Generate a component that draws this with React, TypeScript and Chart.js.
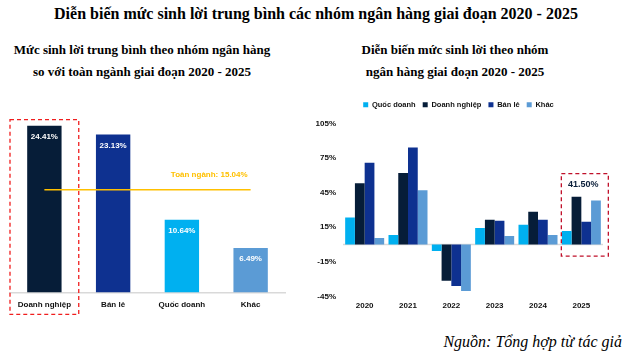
import React, { useEffect, useRef } from 'react';
import { Chart, registerables } from 'chart.js';

Chart.register(...registerables);

const FONT = '"Liberation Sans", Arial, Helvetica, sans-serif';
const SERIF = '"Liberation Serif", "Times New Roman", serif';

// ---- Left chart data ----
const leftCategories = ['Doanh nghiệp', 'Bán lẻ', 'Quốc doanh', 'Khác'];
const leftValues = [24.41, 23.13, 10.64, 6.49];
const leftColors = ['#061D38', '#0E3190', '#00B0F0', '#5B9BD5'];
const industryAvg = 15.04;

// ---- Right chart data ----
const years = ['2020', '2021', '2022', '2023', '2024', '2025'];
const seriesNames = ['Quốc doanh', 'Doanh nghiệp', 'Bán lẻ', 'Khác'];
const quocDoanh = [23.5, 8.2, -5.6, 14.4, 17.1, 11.8];
const doanhNghiep = [53.2, 62.0, -31.5, 21.5, 28.5, 41.5];
const banLe = [70.9, 84.1, -35.9, 20.6, 21.5, 19.7];
const khac = [5.6, 47.0, -40.3, 7.4, 8.2, 38.2];
const seriesColors = ['#00B0F0', '#061D38', '#0E3190', '#5B9BD5'];
const yMin = -45;
const yMax = 105;
const yStep = 30;
const highlightLabel = '41.50%';

const leftPlugin = {
  id: 'leftDecor',
  afterDatasetsDraw(chart: any) {
    const { ctx, scales, chartArea } = chart;
    const x = scales.x;
    const y = scales.y;
    const meta = chart.getDatasetMeta(0);
    ctx.save();
    // industry average line
    const yAvg = y.getPixelForValue(industryAvg);
    const x0 = x.getPixelForValue(0);
    const xN = x.getPixelForValue(leftCategories.length - 1);
    ctx.strokeStyle = '#FFC000';
    ctx.lineWidth = 1.5;
    ctx.beginPath();
    ctx.moveTo(x0, yAvg);
    ctx.lineTo(xN, yAvg);
    ctx.stroke();
    ctx.fillStyle = '#FFC000';
    ctx.font = `bold 8px ${FONT}`;
    ctx.textAlign = 'right';
    ctx.textBaseline = 'middle';
    ctx.fillText(`Toàn ngành: ${industryAvg.toFixed(2)}%`, xN - 3, yAvg - 15);
    // value labels
    ctx.fillStyle = '#FFFFFF';
    ctx.textAlign = 'center';
    meta.data.forEach((bar: any, i: number) => {
      ctx.fillText(`${leftValues[i].toFixed(2)}%`, bar.x, bar.y + 11);
    });
    // dashed highlight box
    const half = (x.getPixelForValue(1) - x0) / 2;
    const top = meta.data[0].y - 6;
    const bottom = chartArea.bottom + 22;
    ctx.strokeStyle = '#F01E1E';
    ctx.lineWidth = 1.3;
    ctx.setLineDash([4, 3]);
    ctx.strokeRect(x0 - half, top, half * 2, bottom - top);
    ctx.restore();
  },
};

const rightPlugin = {
  id: 'rightDecor',
  beforeInit(chart: any) {
    const legend = chart.legend;
    if (legend && !legend._patched) {
      const fit = legend.fit;
      legend.fit = function () {
        fit.call(legend);
        legend.height += 5;
      };
      legend._patched = true;
    }
  },
  beforeDatasetsDraw(chart: any) {
    const { ctx, scales, chartArea } = chart;
    const y0 = scales.y.getPixelForValue(0);
    ctx.save();
    ctx.strokeStyle = '#D9D9D9';
    ctx.lineWidth = 1.5;
    ctx.beginPath();
    ctx.moveTo(chartArea.left, y0);
    ctx.lineTo(chartArea.right, y0);
    ctx.stroke();
    ctx.restore();
  },
  afterDatasetsDraw(chart: any) {
    const { ctx, scales } = chart;
    const last = years.length - 1;
    const cx = scales.x.getPixelForValue(last);
    const bar = chart.getDatasetMeta(1).data[last];
    const y0 = scales.y.getPixelForValue(0);
    ctx.save();
    ctx.fillStyle = '#0B1F3A';
    ctx.font = `bold 9px ${FONT}`;
    ctx.textAlign = 'center';
    ctx.textBaseline = 'middle';
    ctx.fillText(highlightLabel, cx + 2, bar.y - 12);
    const top = bar.y - 23;
    const bottom = y0 + 11.5;
    ctx.strokeStyle = '#C0102A';
    ctx.lineWidth = 1.3;
    ctx.setLineDash([4, 3]);
    ctx.strokeRect(cx - 20, top, 47, bottom - top);
    ctx.restore();
  },
};

function LeftChart() {
  const ref = useRef<HTMLCanvasElement>(null);
  useEffect(() => {
    const chart = new Chart(ref.current!, {
      type: 'bar',
      data: {
        labels: leftCategories,
        datasets: [
          {
            data: leftValues,
            backgroundColor: leftColors,
            barPercentage: 0.5,
            categoryPercentage: 1,
          },
        ],
      },
      options: {
        animation: false,
        responsive: false,
        maintainAspectRatio: false,
        layout: { padding: { left: 10, right: 15, top: 10, bottom: 7 } },
        plugins: { legend: { display: false }, tooltip: { enabled: false } },
        scales: {
          x: {
            grid: { display: false, drawTicks: false },
            border: { display: true, color: '#D9D9D9', width: 1.5 },
            ticks: { color: '#111', font: { family: FONT, size: 8, weight: 'bold' }, padding: 8, maxRotation: 0 },
          },
          y: { display: false, min: 0, max: 26.7 },
        },
      },
      plugins: [leftPlugin],
    } as any);
    return () => chart.destroy();
  }, []);
  return <canvas ref={ref} width={300} height={225} style={{ position: 'absolute', left: 0, top: 100, width: 300, height: 225 }} />;
}

function RightChart() {
  const ref = useRef<HTMLCanvasElement>(null);
  useEffect(() => {
    const seriesData = [quocDoanh, doanhNghiep, banLe, khac];
    const chart = new Chart(ref.current!, {
      type: 'bar',
      data: {
        labels: years,
        datasets: seriesNames.map((name, i) => ({
          label: name,
          data: seriesData[i],
          backgroundColor: seriesColors[i],
          barPercentage: 1,
          categoryPercentage: 0.9,
        })),
      },
      options: {
        animation: false,
        responsive: false,
        maintainAspectRatio: false,
        layout: { padding: { left: 14, right: 25, top: 4, bottom: 4 } },
        plugins: {
          tooltip: { enabled: false },
          legend: {
            display: true,
            position: 'top',
            labels: {
              boxWidth: 5,
              boxHeight: 5,
              padding: 7,
              color: '#111',
              font: { family: FONT, size: 7.5, weight: 'bold' },
            },
          },
        },
        scales: {
          x: {
            grid: { display: false, drawTicks: false },
            border: { display: false },
            ticks: { color: '#111', font: { family: FONT, size: 8, weight: 'bold' }, padding: 5, maxRotation: 0 },
          },
          y: {
            min: yMin,
            max: yMax,
            grid: { display: false, drawTicks: false },
            border: { display: false },
            ticks: {
              stepSize: yStep,
              color: '#111',
              padding: 7,
              font: { family: FONT, size: 8, weight: 'bold' },
              callback: (v: any) => `${v}%`,
            },
            afterFit: (scale: any) => {
              scale.width = 29;
            },
          },
        },
      },
      plugins: [rightPlugin],
    } as any);
    return () => chart.destroy();
  }, []);
  return <canvas ref={ref} width={328} height={230} style={{ position: 'absolute', left: 300, top: 90, width: 328, height: 230 }} />;
}

export default function App() {
  return (
    <div style={{ position: 'absolute', left: 0, top: 0, width: 628, height: 357, background: '#fff', overflow: 'hidden' }}>
      <div style={{ position: 'absolute', left: 0, top: 4, width: 632, textAlign: 'center', fontFamily: SERIF, fontWeight: 'bold', fontSize: 16, lineHeight: '20px', color: '#000', whiteSpace: 'nowrap' }}>
        Diễn biến mức sinh lời trung bình các nhóm ngân hàng giai đoạn 2020 - 2025
      </div>
      <div style={{ position: 'absolute', left: 0, top: 39, width: 284, textAlign: 'center', fontFamily: SERIF, fontWeight: 'bold', fontSize: 13, lineHeight: '22px', color: '#000', whiteSpace: 'nowrap' }}>
        <div>Mức sinh lời trung bình theo nhóm ngân hàng</div>
        <div>so với toàn ngành giai đoạn 2020 - 2025</div>
      </div>
      <div style={{ position: 'absolute', left: 330, top: 39, width: 250, textAlign: 'center', fontFamily: SERIF, fontWeight: 'bold', fontSize: 13, lineHeight: '22px', color: '#000', whiteSpace: 'nowrap' }}>
        <div>Diễn biến mức sinh lời theo nhóm</div>
        <div>ngân hàng giai đoạn 2020 - 2025</div>
      </div>
      <LeftChart />
      <RightChart />
      <div style={{ position: 'absolute', right: 6, top: 332, fontFamily: SERIF, fontStyle: 'italic', fontSize: 16, lineHeight: '20px', color: '#000', whiteSpace: 'nowrap' }}>
        Nguồn: Tổng hợp từ tác giả
      </div>
    </div>
  );
}
